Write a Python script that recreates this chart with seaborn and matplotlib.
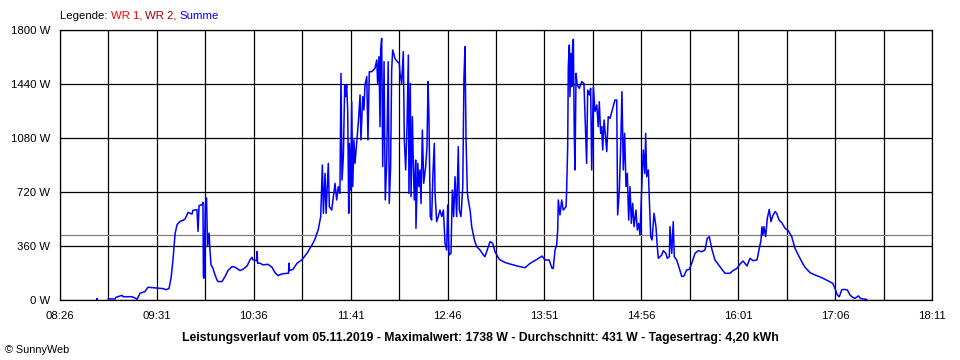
import numpy as np
import pandas as pd
import matplotlib
matplotlib.use("Agg")
import matplotlib.pyplot as plt
import seaborn as sns

# Power readings (minutes since midnight, watts)
minutes = [
    538.2, 542.9, 543.6, 547.6, 548.3, 554.3, 556.3, 557.7, 559.7, 563.0,
    565.0, 571.1, 575.1, 577.1, 579.1, 580.5, 581.8, 582.5, 583.2, 584.5,
    586.5, 588.5, 589.9, 591.9, 594.6, 595.2, 597.9, 598.6, 599.3, 601.3,
    601.9, 602.2, 602.6, 603.5, 604.3, 605.0, 606.0, 606.6, 607.3, 608.6,
    610.0, 611.3, 612.0, 614.7, 616.7, 618.7, 621.4, 623.4, 625.4, 626.8,
    628.8, 631.5, 633.5, 634.8, 635.5, 637.8, 638.2, 638.6, 640.2, 642.2,
    645.5, 648.2, 650.2, 652.2, 654.9, 658.3, 659.3, 659.6, 660.0, 662.3,
    665.0, 668.3, 671.7, 675.1, 677.1,
    679.3, 680.9, 682.0, 682.7, 683.8, 684.5, 686.0, 686.7, 688.3, 690.5,
    691.6, 692.7, 693.8, 694.5, 695.2, 696.1, 697.0, 697.7, 698.3, 699.0,
    699.7, 700.1, 701.0, 701.7, 702.4, 703.2, 703.9, 705.0, 706.1, 707.3,
    707.9, 709.1, 709.9, 710.6, 711.8, 712.6, 713.5, 715.1, 717.3, 718.5,
    719.1, 720.0, 720.7, 721.1, 721.8, 722.5, 723.4, 724.2, 725.1, 726.2,
    726.9, 727.8, 728.5, 729.2, 730.7, 732.3, 733.6,
    734.1, 735.2, 736.3, 737.0, 737.9, 738.8, 739.7, 740.1, 741.0, 741.5,
    742.4, 743.0, 743.7, 744.6, 744.8, 746.0, 746.8, 747.5, 748.2, 749.1,
    750.0, 751.3, 752.2, 752.9, 753.5, 754.4, 755.3, 756.2, 757.1, 757.6,
    758.7, 759.8, 760.9, 762.1, 763.2, 764.3, 765.4, 766.1, 767.0, 768.3,
    769.2, 770.1, 771.0, 772.1, 773.2, 773.9, 775.0, 776.2, 777.0, 777.7,
    778.4, 779.3, 779.9, 781.1, 782.2, 784.0, 785.5, 787.8, 790.0,
    791.1, 794.5, 796.3, 797.8, 800.7, 804.5, 807.9, 813.3, 818.0, 821.3,
    826.0, 829.4, 831.4, 834.1, 836.1, 836.9, 838.1, 839.2, 839.9, 840.3,
    841.4, 842.6, 843.6, 845.5, 845.9, 846.6, 847.0, 847.7, 848.1, 848.8,
    849.3, 850.0, 850.4, 851.0, 851.5, 852.2, 853.0, 854.4, 856.0, 857.5,
    859.3, 860.0, 861.1, 862.0, 862.7, 863.8, 864.9, 866.1, 867.1, 867.8,
    868.7, 869.4, 870.1, 871.0, 871.8, 872.8, 873.8, 875.0, 876.8, 878.3,
    879.5, 880.1, 881.2, 882.2, 883.0, 883.9, 884.8, 885.7, 886.6, 887.5,
    888.4, 889.3, 890.2, 891.1, 892.4, 893.3, 894.2, 895.1, 896.2, 897.3,
    898.3, 898.9, 899.6, 900.7, 901.3, 902.3, 903.2, 904.5, 905.2, 905.8,
    906.7, 907.4, 909.7, 910.7, 912.5, 913.4, 914.8, 915.2, 916.4, 917.4,
    918.1, 919.7, 921.5, 923.1, 924.6, 926.4, 928.2, 929.8, 932.0, 934.2,
    936.5, 938.7, 940.2, 941.6, 943.2, 945.4, 947.4, 950.1, 952.1, 955.5,
    957.5, 960.2, 962.2, 964.2, 966.9, 968.9, 970.9, 973.6, 974.9, 976.3,
    976.9, 977.6, 978.3, 979.4, 980.5, 981.8, 983.0, 984.1, 985.7, 986.8,
    988.4, 990.2, 992.4, 994.6, 996.9, 999.1, 1001.3, 1003.6, 1005.8, 1009.2,
    1012.5, 1017.0, 1021.4, 1024.4, 1025.9, 1027.5, 1028.8, 1030.4, 1032.0, 1034.2,
    1036.0, 1037.8, 1039.3, 1041.6, 1043.2, 1047.2,
]
watts = [
    7, 7, 18, 31, 22, 22, 13, 5, 45, 56,
    85, 80, 76, 69, 76, 145, 268, 357, 441, 502,
    524, 531, 540, 584, 573, 598, 602, 457, 629, 636,
    651, 156, 145, 636, 680, 357, 446, 335, 234, 212,
    167, 134, 123, 123, 156, 196, 223, 219, 205, 196,
    205, 227, 268, 285, 268, 262, 323, 245, 245, 234,
    238, 219, 183, 163, 174, 178, 178, 245, 196, 205,
    245, 268, 312, 368, 406,
    471, 556, 900, 578, 844, 578, 911, 622, 600, 778,
    667, 756, 711, 1511, 800, 956, 1433, 1356, 1433, 1267,
    578, 1044, 733, 1322, 756, 1067, 911, 1044, 1178, 1367,
    1067, 1356, 1267, 1433, 1489, 1067, 1522, 1522, 1544, 1600,
    1444, 1622, 1156, 1667, 1744, 889, 1589, 667, 889, 1589,
    644, 889, 1533, 1667, 1611, 1589, 1578,
    1511, 1444, 1656, 1067, 867, 1156, 1633, 711, 1444, 689,
    1222, 911, 667, 933, 478, 911, 756, 867, 644, 1133,
    778, 889, 1022, 1456, 1222, 556, 533, 844, 1044, 711,
    522, 556, 600, 556, 600, 378, 333, 633, 300, 311,
    733, 556, 822, 556, 1022, 600, 556, 756, 1478, 1689,
    1067, 711, 667, 600, 489, 400, 356, 333, 300,
    289, 389, 378, 322, 271, 250, 240, 225, 215, 244,
    271, 293, 267, 267, 211, 211, 333, 367, 467, 667,
    567, 667, 600, 622, 733, 1022, 1556, 1700, 1356, 1644,
    1422, 1722, 1738, 1111, 867, 1511, 1433, 1411, 1456, 1444,
    911, 1400, 1367, 1411, 867, 1422, 1256, 1300, 1156, 1322,
    1111, 1156, 1000, 1200, 1111, 989, 1222, 1211, 1278, 1333,
    1333, 567, 722, 1044, 1389, 867, 1111, 756, 844, 533,
    756, 511, 644, 489, 600, 467, 511, 433, 733, 1000,
    844, 1111, 822, 867, 689, 422, 400, 578, 533, 489,
    356, 278, 300, 329, 311, 278, 289, 489, 311, 522,
    289, 267, 211, 156, 160, 200, 204, 244, 311, 329,
    322, 333, 411, 422, 344, 267, 240, 204, 178, 178,
    196, 211, 240, 260, 227, 278, 262, 267, 333, 400,
    489, 433, 489, 422, 544, 604, 522, 560, 589, 578,
    533, 516, 478, 462, 422, 344, 300, 256, 218, 182,
    167, 149, 127, 111, 78, 33, 22, 67, 71, 67,
    33, 18, 11, 27, 9, 4,
]
# single isolated reading before the curve starts
dot_minutes = [530.8]
dot_watts = [5]

average_w = 431
y_ticks = [0, 360, 720, 1080, 1440, 1800]
x_tick_labels = ["08:26", "09:31", "10:36", "11:41", "12:46",
                 "13:51", "14:56", "16:01", "17:06", "18:11"]

df = pd.DataFrame({"minute": minutes, "watt": watts})
x_start = 8 * 60 + 26
x_end = 18 * 60 + 11

sns.set_style("white")
plt.rcParams["font.family"] = ["Liberation Sans", "DejaVu Sans"]

fig = plt.figure(figsize=(9.6, 3.6), dpi=100)
ax = fig.add_axes([60 / 960, 60 / 360, 872 / 960, 270 / 360])

# Grid and average line
major = [x_start + 65 * i for i in range(len(x_tick_labels))]
minor = [x_start + 32.5 + 65 * i for i in range(len(x_tick_labels) - 1)]
ax.set_xticks(major)
ax.set_xticks(minor, minor=True)
ax.set_xticklabels(x_tick_labels)
ax.set_yticks(y_ticks)
ax.set_yticklabels([f"{v} W" for v in y_ticks])
ax.grid(which="both", color="black", linewidth=0.9)
ax.set_axisbelow(True)
ax.axhline(average_w, color="#808080", linewidth=0.9, zorder=1.5)

sns.lineplot(data=df, x="minute", y="watt", color="#0000FF", linewidth=1.1,
             estimator=None, sort=False, ax=ax, zorder=3)
sns.scatterplot(x=dot_minutes, y=dot_watts, color="#0000FF", marker="s", s=3,
                linewidth=0, ax=ax, zorder=3)

ax.set_xlim(x_start, x_end)
ax.set_ylim(0, 1800)
ax.set_xlabel("")
ax.set_ylabel("")
for s in ax.spines.values():
    s.set_color("black")
    s.set_linewidth(0.9)
ax.tick_params(which="both", direction="out", length=3.6, width=0.9, color="black",
               labelsize=8.2, labelcolor="black")
ax.tick_params(axis="x", pad=4.5)
ax.tick_params(axis="y", pad=3.5)

# Legend line at the top
t0 = fig.text(60 / 960, 1 - 16 / 360, "Legende: ", fontsize=8.2, color="black", va="center")
t1 = ax.annotate("WR 1, ", xy=(1, 0), xycoords=t0, va="bottom", ha="left",
                 fontsize=8.2, color="#FF0000", annotation_clip=False)
t2 = ax.annotate("WR 2, ", xy=(1, 0), xycoords=t1, va="bottom", ha="left",
                 fontsize=8.2, color="#A00000", annotation_clip=False)
ax.annotate("Summe", xy=(1, 0), xycoords=t2, va="bottom", ha="left",
            fontsize=8.2, color="#0000FF", annotation_clip=False)

fig.text(0.5, 1 - 338 / 360,
         "Leistungsverlauf vom 05.11.2019 - Maximalwert: 1738 W - Durchschnitt: 431 W - Tagesertrag: 4,20 kWh",
         ha="center", va="center", fontsize=8.8, fontweight="bold", color="black")
fig.text(5 / 960, 1 - 350 / 360, "© SunnyWeb", ha="left", va="center", fontsize=7.8, color="black")

fig.savefig("out.png", dpi=100, facecolor="white")
